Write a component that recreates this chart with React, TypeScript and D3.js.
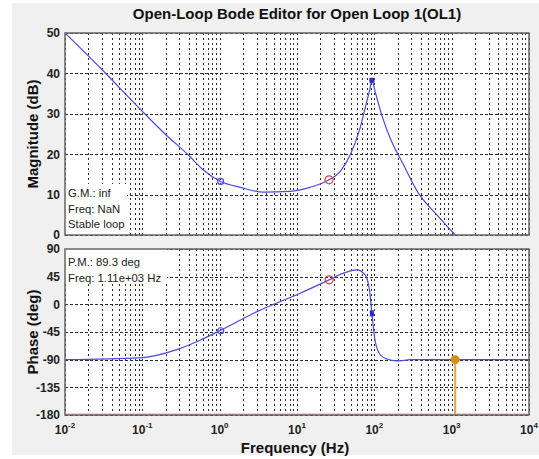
import React from "react";
import * as d3 from "d3";

// magnitude curve
const magFreq = [0.01, 0.0313, 0.0933, 0.197, 0.393, 0.615, 1.03, 1.84, 3.68, 8.15, 14.8, 26, 36.1, 48.7, 65.5, 80, 86.5, 93, 102, 125, 160, 238, 372, 644, 1110];
const magDb = [50, 40.6, 31.2, 25.0, 19.8, 16.1, 13.25, 11.8, 10.6, 10.8, 11.8, 13.65, 15.7, 19.8, 26.5, 33.1, 35.6, 38.3, 35.6, 29.6, 24.0, 17.4, 10.35, 4.96, 0];

// phase curve
const phaseFreq = [0.01, 0.093, 0.279, 0.557, 1.0, 3.02, 10.96, 26, 39.8, 59.4, 76, 86.5, 93, 102, 119, 145, 194, 300, 10000];
const phaseDeg = [-90, -87, -73.6, -58.4, -43, -12, 18, 39.8, 50.7, 56, 48, 23.4, -14.7, -58.4, -82, -89, -92, -90, -90];

const magTicks = [0, 10, 20, 30, 40, 50];
const phaseTicks = [90, 45, 0, -45, -90, -135, -180];
const decades = [-2, -1, 0, 1, 2, 3, 4];

const gmText = ["G.M.: inf", "Freq: NaN", "Stable loop"];
const pmText = ["P.M.: 89.3 deg", "Freq: 1.11e+03 Hz"];

const pmFreq = 1110;
const zeroMarks = [{ f: 1.03, db: 13.25, ph: -43 }];
const poleMarks = [{ f: 26, db: 13.65, ph: 39.8 }];
const peakMarks = [{ f: 93, db: 38.3, ph: -14.7 }];

const W = 539;
const H = 459;
const font = "'Liberation Sans', Arial, sans-serif";
const blue = "#4a4ae0";

export default function App() {
  const x = d3.scaleLog().domain([1e-2, 1e4]).range([65, 529]);
  const yMag = d3.scaleLinear().domain([0, 50]).range([235, 33]);
  const yPh = d3.scaleLinear().domain([-180, 90]).range([415, 249]);

  const magLine = d3
    .line<number>()
    .x((_, i) => x(magFreq[i]))
    .y((d) => yMag(d))
    .curve(d3.curveMonotoneX);
  const phLine = d3
    .line<number>()
    .x((_, i) => x(phaseFreq[i]))
    .y((d) => yPh(d))
    .curve(d3.curveMonotoneX);

  const vTicks = x.ticks();
  const px = (v: number) => Math.round(v) + 0.5;

  const grid = (y: d3.ScaleLinear<number, number>, ticks: number[]) => (
    <g stroke="#2a2a2a" strokeWidth={1} shapeRendering="crispEdges">
      {vTicks.map((t, i) => (
        <line key={"v" + i} x1={px(x(t))} x2={px(x(t))} y1={y.range()[1]} y2={y.range()[0]} strokeDasharray="2,3" />
      ))}
      {ticks.map((t, i) => (
        <line key={"h" + i} x1={65} x2={529} y1={px(y(t))} y2={px(y(t))} strokeDasharray="3,2" />
      ))}
    </g>
  );

  const yLabels = (y: d3.ScaleLinear<number, number>, ticks: number[]) =>
    ticks.map((t) => (
      <text key={t} x={60} y={y(t)} dy="0.36em" textAnchor="end" fontSize={12} fontWeight="bold" fill="#222">
        {t}
      </text>
    ));

  return (
    <div style={{ position: "absolute", left: 0, top: 0 }}>
      <svg width={W} height={H} style={{ display: "block", fontFamily: font }}>
        <defs>
          <clipPath id="magClip">
            <rect x={65} y={33} width={464} height={202} />
          </clipPath>
          <clipPath id="phClip">
            <rect x={65} y={249} width={464} height={166} />
          </clipPath>
        </defs>
        <rect width={W} height={H} fill="#fff" />
        <rect x={12} y={3} width={W - 12} height={452} fill="#f0f0f0" />

        <text x={297} y={19} textAnchor="middle" fontSize={15} fontWeight="bold" fill="#111">
          Open-Loop Bode Editor for Open Loop 1(OL1)
        </text>

        {/* magnitude axes */}
        <rect x={65} y={33} width={464} height={202} fill="#fff" />
        {grid(yMag, magTicks)}
        <g clipPath="url(#magClip)">
          <path d={magLine(magDb) ?? ""} fill="none" stroke={blue} strokeWidth={1.2} />
        </g>
        {zeroMarks.map((m, i) => (
          <circle key={i} cx={x(m.f)} cy={yMag(m.db)} r={3} fill="none" stroke={blue} strokeWidth={1.2} />
        ))}
        {poleMarks.map((m, i) => (
          <circle key={i} cx={x(m.f)} cy={yMag(m.db)} r={4} fill="none" stroke="#e03535" strokeWidth={1.2} />
        ))}
        {peakMarks.map((m, i) => (
          <rect key={i} x={x(m.f) - 2.5} y={yMag(m.db) - 2.5} width={5} height={5} fill="#2a2ad0" />
        ))}
        <rect x={65} y={184} width={62} height={51} fill="#fff" />
        {gmText.map((s, i) => (
          <text key={s} x={68} y={197 + i * 15.5} fontSize={11.3} fill="#222">
            {s}
          </text>
        ))}
        <rect x={65} y={33} width={464} height={202} fill="none" stroke="#666" strokeWidth={1.5} />
        {yLabels(yMag, magTicks)}

        {/* phase axes */}
        <rect x={65} y={249} width={464} height={166} fill="#fff" />
        {grid(yPh, phaseTicks)}
        <line x1={65} x2={529} y1={yPh(-180) - 1} y2={yPh(-180) - 1} stroke="#e8cf80" strokeWidth={1.5} />
        <g clipPath="url(#phClip)">
          <path d={phLine(phaseDeg) ?? ""} fill="none" stroke={blue} strokeWidth={1.2} />
        </g>
        {zeroMarks.map((m, i) => (
          <circle key={i} cx={x(m.f)} cy={yPh(m.ph)} r={3} fill="none" stroke={blue} strokeWidth={1.2} />
        ))}
        {poleMarks.map((m, i) => (
          <circle key={i} cx={x(m.f)} cy={yPh(m.ph)} r={4} fill="none" stroke="#e03535" strokeWidth={1.2} />
        ))}
        {peakMarks.map((m, i) => (
          <rect key={i} x={x(m.f) - 2} y={yPh(m.ph) - 3} width={4} height={6} fill="#2a2ad0" />
        ))}
        <line x1={x(pmFreq)} x2={x(pmFreq)} y1={yPh(-90)} y2={yPh(-180)} stroke="#e6a54a" strokeWidth={2} />
        <circle cx={x(pmFreq)} cy={yPh(-90)} r={4.5} fill="#d98e1c" />
        <rect x={65} y={249} width={102} height={34} fill="#fff" />
        {pmText.map((s, i) => (
          <text key={s} x={68} y={265.5 + i * 16} fontSize={11.3} fill="#222">
            {s}
          </text>
        ))}
        <rect x={65} y={249} width={464} height={166} fill="none" stroke="#666" strokeWidth={1.5} />
        {yLabels(yPh, phaseTicks)}

        {/* x tick labels */}
        {decades.map((d) => (
          <text key={d} x={x(Math.pow(10, d))} y={434} textAnchor="middle" fontSize={12} fontWeight="bold" fill="#222">
            10
            <tspan dy={-6} fontSize={8}>
              {d}
            </tspan>
          </text>
        ))}
        <text x={295} y={453} textAnchor="middle" fontSize={15} fontWeight="bold" fill="#111">
          Frequency (Hz)
        </text>
        <text transform="translate(38,134) rotate(-90)" textAnchor="middle" fontSize={15} fontWeight="bold" fill="#111">
          Magnitude (dB)
        </text>
        <text transform="translate(38,332) rotate(-90)" textAnchor="middle" fontSize={15} fontWeight="bold" fill="#111">
          Phase (deg)
        </text>
      </svg>
    </div>
  );
}
